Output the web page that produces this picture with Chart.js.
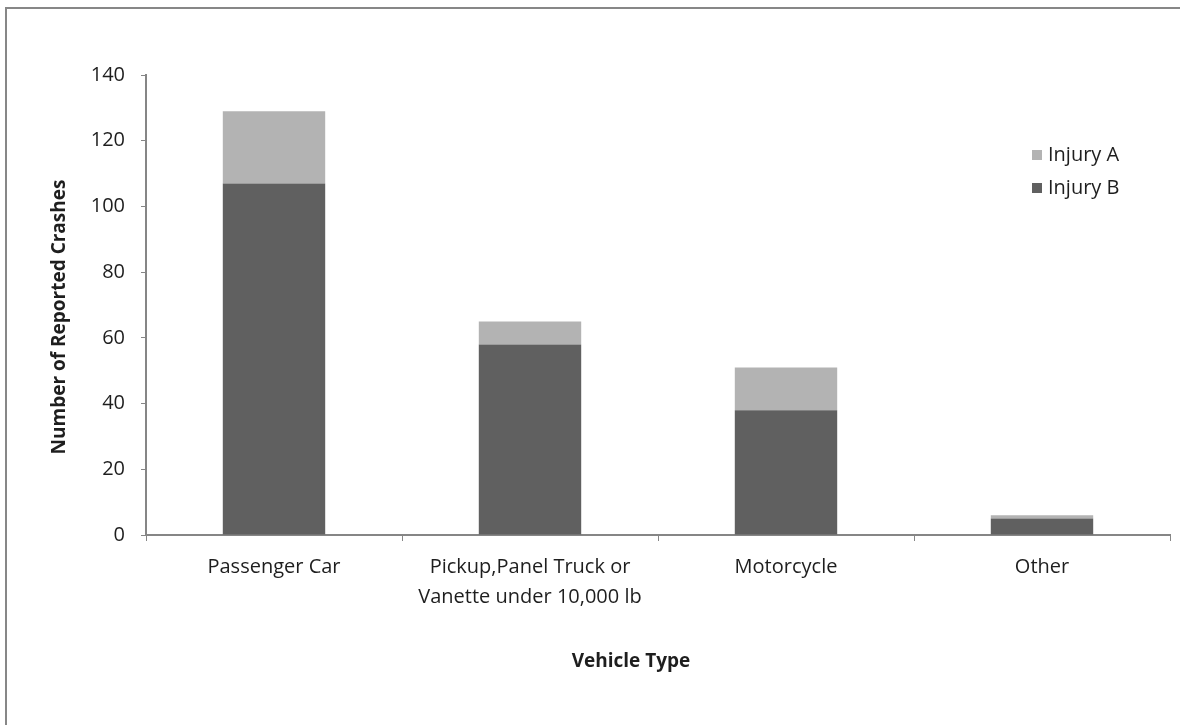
<!DOCTYPE html>
<html>
<head>
<meta charset="utf-8">
<script src="https://cdn.jsdelivr.net/npm/chart.js@4/dist/chart.umd.min.js"></script>
<style>
  body { margin: 0; background: #fff; }
  #wrap { position: relative; width: 1180px; height: 725px; overflow: hidden; }
  #frame { position: absolute; left: 5px; top: 7px; width: 1200px; height: 760px; border: 2px solid #878787; box-sizing: border-box; }
  canvas { position: absolute; left: 0; top: 0; }
</style>
</head>
<body>
<div id="wrap">
  <div id="frame"></div>
  <canvas id="cv" width="1180" height="725"></canvas>
</div>
<script>
// daten
const vehicleTypes = ["Passenger Car", ["Pickup,Panel Truck or", "Vanette under 10,000 lb"], "Motorcycle", "Other"];
const injuryB = [107, 58, 38, 5];
const injuryA = [22, 7, 13, 1];
const yTicks = [0, 20, 40, 60, 80, 100, 120, 140];

const fontFam = "'Open Sans', sans-serif";
const txtColor = "#1e1e1e";
const axisColor = "#868686";

// titel + legende selbst zeichnen
const extras = {
    id: "extras",
    afterDraw(chart) {
        const ctx = chart.ctx;
        ctx.save();
        ctx.fillStyle = txtColor;
        ctx.font = "bold 19px " + fontFam;
        ctx.textAlign = "center";
        ctx.textBaseline = "middle";
        ctx.fillText("Vehicle Type", 631, 662);
        ctx.translate(60, 317);
        ctx.rotate(-Math.PI / 2);
        ctx.fillText("Number of Reported Crashes", 0, 0);
        ctx.restore();

        // legende: Injury A oben, Injury B unten
        ctx.save();
        ctx.font = "20px " + fontFam;
        ctx.textBaseline = "middle";
        ctx.textAlign = "left";
        const items = [chart.data.datasets[1], chart.data.datasets[0]];
        items.forEach((ds, i) => {
            const y = 155 + i * 33;
            ctx.fillStyle = ds.backgroundColor;
            ctx.fillRect(1032, y - 5, 10, 10);
            ctx.fillStyle = txtColor;
            ctx.fillText(ds.label, 1048, y);
        });
        ctx.restore();
    }
};

new Chart(document.getElementById("cv").getContext("2d"), {
    type: "bar",
    data: {
        labels: vehicleTypes,
        datasets: [
            { label: "Injury B", data: injuryB, backgroundColor: "#606060" },
            { label: "Injury A", data: injuryA, backgroundColor: "#b3b3b3" }
        ]
    },
    options: {
        responsive: false,
        animation: false,
        layout: { padding: { top: 75, right: 10, left: 0, bottom: 0 } },
        datasets: { bar: { barPercentage: 1, categoryPercentage: 0.4 } },
        plugins: { legend: { display: false }, tooltip: { enabled: false } },
        scales: {
            x: {
                stacked: true,
                grid: { drawOnChartArea: false, color: axisColor, tickLength: 6, offset: true },
                border: { color: axisColor, width: 2 },
                ticks: { color: txtColor, font: { family: fontFam, size: 20, lineHeight: 1.5 }, padding: 11, maxRotation: 0, autoSkip: false },
                afterFit(scale) { scale.height = 190; }
            },
            y: {
                stacked: true,
                min: 0,
                max: 140,
                afterBuildTicks(scale) { scale.ticks = yTicks.map(v => ({ value: v })); },
                grid: { drawOnChartArea: false, color: axisColor, tickLength: 5 },
                border: { color: axisColor, width: 2 },
                ticks: { color: txtColor, font: { family: fontFam, size: 20 }, padding: 16 },
                afterFit(scale) { scale.width = 146; }
            }
        }
    },
    plugins: [extras]
});
</script>
</body>
</html>
